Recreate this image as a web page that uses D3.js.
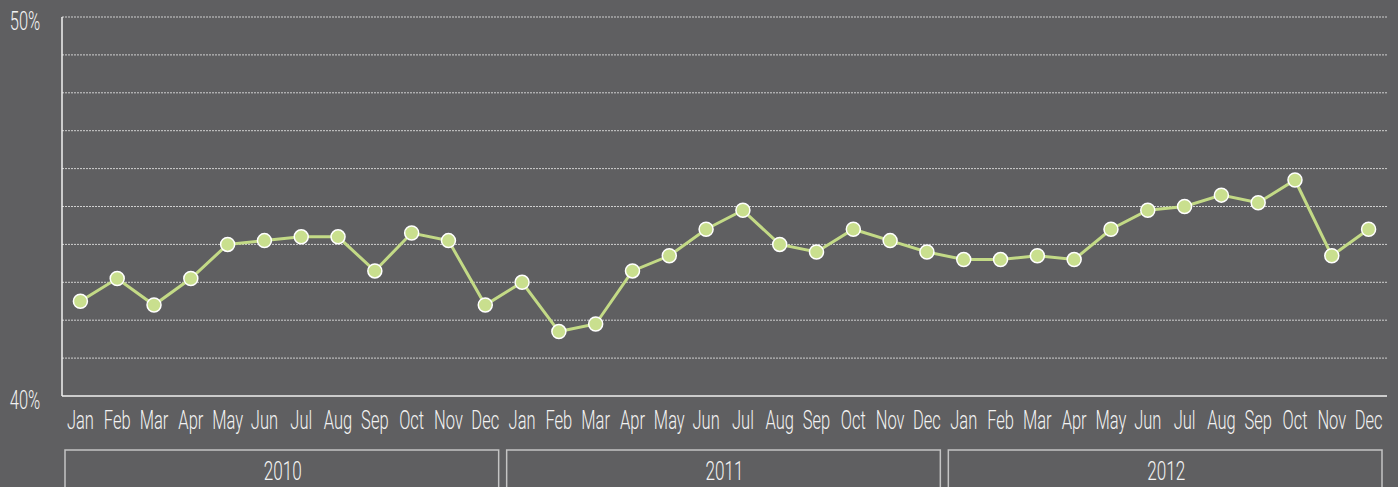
<!DOCTYPE html>
<html>
<head>
<meta charset="utf-8">
<script src="https://cdn.jsdelivr.net/npm/d3@7"></script>
<style>
  body { margin: 0; background: #5f5f61; }
  svg { display: block; }
  text { font-family: Roboto, "Liberation Sans Narrow", sans-serif; font-weight: 300; fill: #f2f2f2; }
</style>
</head>
<body>
<div id="chart"></div>
<script>
// data
var years = ['2010', '2011', '2012'];
var months = ['Jan', 'Feb', 'Mar', 'Apr', 'May', 'Jun', 'Jul', 'Aug', 'Sep', 'Oct', 'Nov', 'Dec'];
var values2010 = [42.5, 43.1, 42.4, 43.1, 44.0, 44.1, 44.2, 44.2, 43.3, 44.3, 44.1, 42.4];
var values2011 = [43.0, 41.7, 41.9, 43.3, 43.7, 44.4, 44.9, 44.0, 43.8, 44.4, 44.1, 43.8];
var values2012 = [43.6, 43.6, 43.7, 43.6, 44.4, 44.9, 45.0, 45.3, 45.1, 45.7, 43.7, 44.4];
var yTickLabels = ['40%', '50%'];

function drawChart() {
    var width = 1398, height = 487;
    var plotLeft = 62, plotRight = 1387, plotTop = 17, plotBottom = 396;
    var squeeze = 0.66; // condensed look for the font

    var series = [values2010, values2011, values2012];
    var points = [];
    years.forEach(function(yr, i) {
        months.forEach(function(m, j) {
            points.push({year: yr, month: m, key: yr + '-' + m, value: series[i][j]});
        });
    });

    var svg = d3.select('#chart').append('svg')
        .attr('width', width)
        .attr('height', height);

    var x = d3.scalePoint()
        .domain(points.map(function(d) { return d.key; }))
        .range([plotLeft, plotRight])
        .padding(0.5);

    var y = d3.scaleLinear()
        .domain([40, 50])
        .range([plotBottom, plotTop]);

    // gridlines
    svg.append('g')
        .selectAll('line')
        .data(d3.range(41, 51))
        .enter()
        .append('line')
        .attr('x1', plotLeft)
        .attr('x2', plotRight)
        .attr('y1', function(d) { return y(d); })
        .attr('y2', function(d) { return y(d); })
        .style('stroke', '#d0d0d0')
        .style('stroke-width', 1)
        .style('stroke-dasharray', '2,1');

    // axis lines
    svg.append('line')
        .attr('x1', plotLeft).attr('x2', plotLeft)
        .attr('y1', plotTop).attr('y2', plotBottom)
        .style('stroke', '#f0f0f0').style('stroke-width', 1.5);
    svg.append('line')
        .attr('x1', plotLeft).attr('x2', plotRight)
        .attr('y1', plotBottom).attr('y2', plotBottom)
        .style('stroke', '#f0f0f0').style('stroke-width', 1.5);

    // y labels
    svg.append('g')
        .selectAll('text')
        .data(yTickLabels)
        .enter()
        .append('text')
        .attr('transform', function(d) { return 'translate(25,' + (y(parseFloat(d)) + 4) + ') scale(' + squeeze + ',1)'; })
        .attr('text-anchor', 'middle')
        .attr('dominant-baseline', 'central')
        .style('font-size', '25px')
        .text(function(d) { return d; });

    // month labels
    svg.append('g')
        .selectAll('text')
        .data(points)
        .enter()
        .append('text')
        .attr('transform', function(d) { return 'translate(' + x(d.key) + ',420) scale(' + squeeze + ',1)'; })
        .attr('text-anchor', 'middle')
        .attr('dominant-baseline', 'central')
        .style('font-size', '25px')
        .text(function(d) { return d.month; });

    // year boxes
    var step = x.step();
    var yearG = svg.append('g')
        .selectAll('g')
        .data(years)
        .enter()
        .append('g');

    yearG.append('rect')
        .attr('x', function(d) { return x(d + '-Jan') - step / 2 + 3; })
        .attr('y', 450)
        .attr('width', step * 12 - 8)
        .attr('height', 60)
        .style('fill', 'none')
        .style('stroke', '#c4c4c4')
        .style('stroke-width', 1.5);

    yearG.append('text')
        .attr('transform', function(d) {
            var cx = (x(d + '-Jan') + x(d + '-Dec')) / 2;
            return 'translate(' + cx + ',471) scale(' + squeeze + ',1)';
        })
        .attr('text-anchor', 'middle')
        .attr('dominant-baseline', 'central')
        .style('font-size', '26px')
        .text(function(d) { return d; });

    // line + markers
    var line = d3.line()
        .x(function(d) { return x(d.key); })
        .y(function(d) { return y(d.value); });

    svg.append('path')
        .datum(points)
        .attr('d', line)
        .style('fill', 'none')
        .style('stroke', '#c3da86')
        .style('stroke-width', 3);

    svg.append('g')
        .selectAll('circle')
        .data(points)
        .enter()
        .append('circle')
        .attr('cx', function(d) { return x(d.key); })
        .attr('cy', function(d) { return y(d.value); })
        .attr('r', 7)
        .style('fill', '#c9df8e')
        .style('stroke', '#ffffff')
        .style('stroke-width', 1.5);
}

drawChart();
</script>
</body>
</html>
